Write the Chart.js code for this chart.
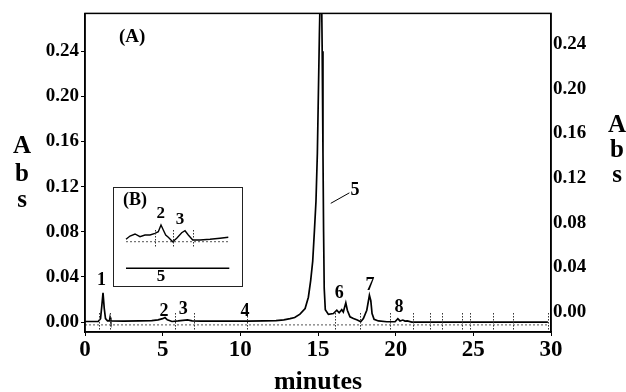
<!DOCTYPE html>
<html lang="en">
<head>
  <meta charset="UTF-8">
  <title>Chromatogram</title>
  <script src="https://cdn.jsdelivr.net/npm/chart.js"></script>
  <style>
body { margin: 0; background: #fff; }
#wrap { position: relative; width: 626px; height: 392px; }
#mainChart { position: absolute; left: 0; top: 0; }
#insetChart { position: absolute; left: 113px; top: 187px; }
  </style>
</head>
<body>
  <div id="wrap">
    <canvas id="mainChart" width="626" height="392"></canvas>
    <canvas id="insetChart" width="130" height="100"></canvas>
  </div>

  <script>
    // main trace (minutes, absorbance)
    const times = [0, 0.85, 1.0, 1.08, 1.16, 1.24, 1.32, 1.45, 1.57, 1.61, 1.66, 2.5, 3.5, 4.3, 4.7, 5.0, 5.15, 5.3, 5.6, 6.0, 6.3, 6.6, 6.9, 7.5, 9.0, 10.5, 11.5, 12.3, 12.8, 13.2, 13.5, 13.84, 14.17, 14.38, 14.53, 14.66, 14.77, 14.87, 14.96, 15.09, 15.2, 15.27, 15.32, 15.36, 15.4, 15.47, 15.67, 15.99, 16.21, 16.36, 16.53, 16.63, 16.79, 16.89, 17.06, 17.28, 17.53, 17.75, 17.92, 18.14, 18.31, 18.4, 18.48, 18.61, 18.89, 19.43, 19.96, 20.14, 20.28, 20.46, 20.6, 20.75, 21.04, 23.0, 25.0, 27.0, 29.8];
    const absorbance = [0.0005, 0.0005, 0.003, 0.014, 0.026, 0.012, 0.003, 0.001, 0.001, 0.004, 0.001, 0.0008, 0.001, 0.0012, 0.002, 0.003, 0.004, 0.002, 0.0005, 0.001, 0.0015, 0.002, 0.001, 0.0008, 0.0008, 0.0008, 0.001, 0.0012, 0.002, 0.003, 0.004, 0.007, 0.012, 0.022, 0.037, 0.054, 0.081, 0.107, 0.15, 0.255, 0.33, 0.24, 0.15, 0.08, 0.03, 0.011, 0.0068, 0.0076, 0.0105, 0.0082, 0.011, 0.009, 0.017, 0.0105, 0.0047, 0.0032, 0.0018, 0.0003, 0.0032, 0.0105, 0.0237, 0.019, 0.0076, 0.0024, 0.001, 0.0003, 0.0003, 0.003, 0.001, 0.0018, 0.0009, 0.001, 0.0, 0.0, 0.0, 0.0, 0.0];

    const baselineTimes = [0, 29.8];
    const baselineAbs = [-0.0025, -0.0025];

    // integration marks along the baseline
    const markerTimes = [0.9, 1.61, 5.8, 7.02, 10.43, 16.1, 17.7, 19.64, 21.12, 22.2, 23.0, 24.3, 24.8, 26.27, 27.56, 29.8];

    const peakNames = ['1', '2', '3', '4', '5', '6', '7', '8'];
    const peakLabelTime = [1.07, 5.09, 6.33, 10.3, 17.39, 16.37, 18.35, 20.22];
    const peakLabelAbs = [0.0369, 0.0091, 0.0114, 0.0091, 0.117, 0.0252, 0.0325, 0.0134];

    const xTicks = [0, 5, 10, 15, 20, 25, 30];
    const yTicks = [0, 0.04, 0.08, 0.12, 0.16, 0.20, 0.24];

    // inset (B): relative units
    const insetTime = [1.3, 1.7, 2.2, 2.7, 3.2, 3.7, 4.2, 4.53, 4.8, 5.03, 5.27, 5.53, 5.97, 6.37, 6.87, 7.2, 7.53, 7.97, 8.7, 9.7, 10.7, 11.53];
    const insetAbs = [4.77, 5.1, 5.3, 5.03, 5.2, 5.2, 5.37, 5.53, 6.2, 5.7, 5.2, 4.97, 4.53, 4.87, 5.43, 5.63, 5.2, 4.7, 4.7, 4.77, 4.87, 4.97];
    const insetBaseTime = [1.3, 11.5];
    const insetBaseAbs = [4.53, 4.53];
    const insetLowTime = [1.3, 11.63];
    const insetLowAbs = [1.87, 1.87];
    const insetMarkerTime = [4.2, 5.97, 7.97];
    const insetNames = ['(B)', '2', '3', '5'];
    const insetLabelTime = [2.2, 4.77, 6.7, 4.8];
    const insetLabelAbs = [8.63, 7.37, 6.77, 1.03];

    const serif = '"Liberation Serif", "Times New Roman", serif';

    function pts(xs, ys) {
      return xs.map((x, i) => ({ x: x, y: ys[i] }));
    }

    const annotate = {
      id: 'annotate',
      afterDatasetsDraw(chart) {
        const ctx = chart.ctx;
        const sx = chart.scales.x, sy = chart.scales.y;
        const area = chart.chartArea;
        ctx.save();

        // dotted marks
        ctx.strokeStyle = '#333';
        ctx.lineWidth = 1;
        ctx.setLineDash([1.5, 1.5]);
        markerTimes.forEach(t => {
          const px = Math.round(sx.getPixelForValue(t)) + 0.5;
          ctx.beginPath();
          ctx.moveTo(px, sy.getPixelForValue(0.008));
          ctx.lineTo(px, sy.getPixelForValue(-0.007));
          ctx.stroke();
        });
        ctx.setLineDash([]);

        // peak numbers
        ctx.fillStyle = '#000';
        ctx.font = 'bold 18px ' + serif;
        ctx.textAlign = 'center';
        ctx.textBaseline = 'middle';
        peakNames.forEach((n, i) => {
          ctx.fillText(n, sx.getPixelForValue(peakLabelTime[i]), sy.getPixelForValue(peakLabelAbs[i]));
        });

        // leader to peak 5
        ctx.strokeStyle = '#000';
        ctx.lineWidth = 1;
        ctx.beginPath();
        ctx.moveTo(sx.getPixelForValue(17.02), sy.getPixelForValue(0.1145));
        ctx.lineTo(sx.getPixelForValue(15.82), sy.getPixelForValue(0.1052));
        ctx.stroke();

        ctx.font = 'bold 19px ' + serif;
        ctx.fillText('(A)', sx.getPixelForValue(3.03), sy.getPixelForValue(0.2523));

        // frame
        ctx.lineWidth = 1.5;
        ctx.strokeRect(area.left, area.top, area.right - area.left, area.bottom - area.top);

        // "A b s" on both sides
        ctx.font = 'bold 25px ' + serif;
        [['A', 147], ['b', 175], ['s', 201]].forEach(p => ctx.fillText(p[0], 22, p[1]));
        [['A', 126], ['b', 151], ['s', 176]].forEach(p => ctx.fillText(p[0], 617, p[1]));
        ctx.restore();
      }
    };

    const tickFont = { family: serif, weight: 'bold', size: 19 };

    new Chart(document.getElementById('mainChart'), {
      type: 'line',
      data: {
        datasets: [{
          data: pts(times, absorbance),
          borderColor: '#000',
          borderWidth: 1.7,
          pointRadius: 0,
          tension: 0,
          yAxisID: 'y'
        }, {
          data: pts(baselineTimes, baselineAbs),
          borderColor: '#555',
          borderWidth: 1,
          borderDash: [2, 2],
          pointRadius: 0,
          yAxisID: 'y'
        }]
      },
      options: {
        responsive: false,
        animation: false,
        layout: { padding: { top: 12, left: 0, right: 0, bottom: 0 } },
        plugins: { legend: { display: false }, tooltip: { enabled: false } },
        scales: {
          x: {
            type: 'linear',
            position: 'bottom',
            min: 0,
            max: 30,
            afterBuildTicks: s => { s.ticks = xTicks.map(v => ({ value: v })); },
            afterFit: s => { s.height = 60; },
            ticks: { font: { family: serif, weight: 'bold', size: 23 }, color: '#000', padding: 0, maxRotation: 0 },
            grid: { drawOnChartArea: false, tickLength: 4, color: '#000' },
            border: { color: '#000', width: 1.5 },
            title: {
              display: true,
              text: 'minutes',
              color: '#000',
              font: { family: serif, weight: 'bold', size: 26, lineHeight: 1 },
              padding: { top: 0, bottom: -3 }
            }
          },
          y: {
            position: 'left',
            min: -0.0088,
            max: 0.2735,
            afterBuildTicks: s => { s.ticks = yTicks.map(v => ({ value: v })); },
            afterFit: s => { s.width = 85; },
            ticks: { font: tickFont, color: '#000', padding: 2, callback: v => v.toFixed(2) },
            grid: { drawOnChartArea: false, tickLength: 4, color: '#000' },
            border: { color: '#000', width: 1.5 }
          },
          y2: {
            position: 'right',
            min: -0.0178,
            max: 0.2677,
            afterBuildTicks: s => { s.ticks = yTicks.map(v => ({ value: v })); },
            afterFit: s => { s.width = 75; },
            ticks: { font: tickFont, color: '#000', padding: 2, callback: v => v.toFixed(2) },
            grid: { drawOnChartArea: false, drawTicks: false },
            border: { color: '#000', width: 1.5 }
          }
        }
      },
      plugins: [annotate]
    });

    const insetDraw = {
      id: 'insetDraw',
      beforeDraw(chart) {
        const ctx = chart.ctx;
        ctx.save();
        ctx.fillStyle = '#fff';
        ctx.fillRect(0, 0, chart.width, chart.height);
        ctx.restore();
      },
      afterDraw(chart) {
        const ctx = chart.ctx;
        const sx = chart.scales.x, sy = chart.scales.y;
        ctx.save();
        ctx.strokeStyle = '#333';
        ctx.lineWidth = 1;
        ctx.setLineDash([1.5, 1.5]);
        insetMarkerTime.forEach(t => {
          const px = Math.round(sx.getPixelForValue(t)) + 0.5;
          ctx.beginPath();
          ctx.moveTo(px, sy.getPixelForValue(5.7));
          ctx.lineTo(px, sy.getPixelForValue(3.9));
          ctx.stroke();
        });
        ctx.setLineDash([]);
        ctx.fillStyle = '#000';
        ctx.textAlign = 'center';
        ctx.textBaseline = 'middle';
        insetNames.forEach((n, i) => {
          ctx.font = (i === 0 ? 'bold 18px ' : 'bold 17px ') + serif;
          ctx.fillText(n, sx.getPixelForValue(insetLabelTime[i]), sy.getPixelForValue(insetLabelAbs[i]));
        });
        ctx.strokeStyle = '#222';
        ctx.lineWidth = 1;
        ctx.strokeRect(0.5, 0.5, chart.width - 1, chart.height - 1);
        ctx.restore();
      }
    };

    new Chart(document.getElementById('insetChart'), {
      type: 'line',
      data: {
        datasets: [{
          data: pts(insetTime, insetAbs),
          borderColor: '#000',
          borderWidth: 1.4,
          pointRadius: 0,
          tension: 0
        }, {
          data: pts(insetBaseTime, insetBaseAbs),
          borderColor: '#555',
          borderWidth: 1,
          borderDash: [2, 2],
          pointRadius: 0
        }, {
          data: pts(insetLowTime, insetLowAbs),
          borderColor: '#000',
          borderWidth: 1.6,
          pointRadius: 0
        }]
      },
      options: {
        responsive: false,
        animation: false,
        layout: { padding: 0 },
        plugins: { legend: { display: false }, tooltip: { enabled: false } },
        scales: {
          x: { type: 'linear', display: false, min: 0, max: 13 },
          y: { display: false, min: 0, max: 10 }
        }
      },
      plugins: [insetDraw]
    });
  </script>
</body>
</html>
